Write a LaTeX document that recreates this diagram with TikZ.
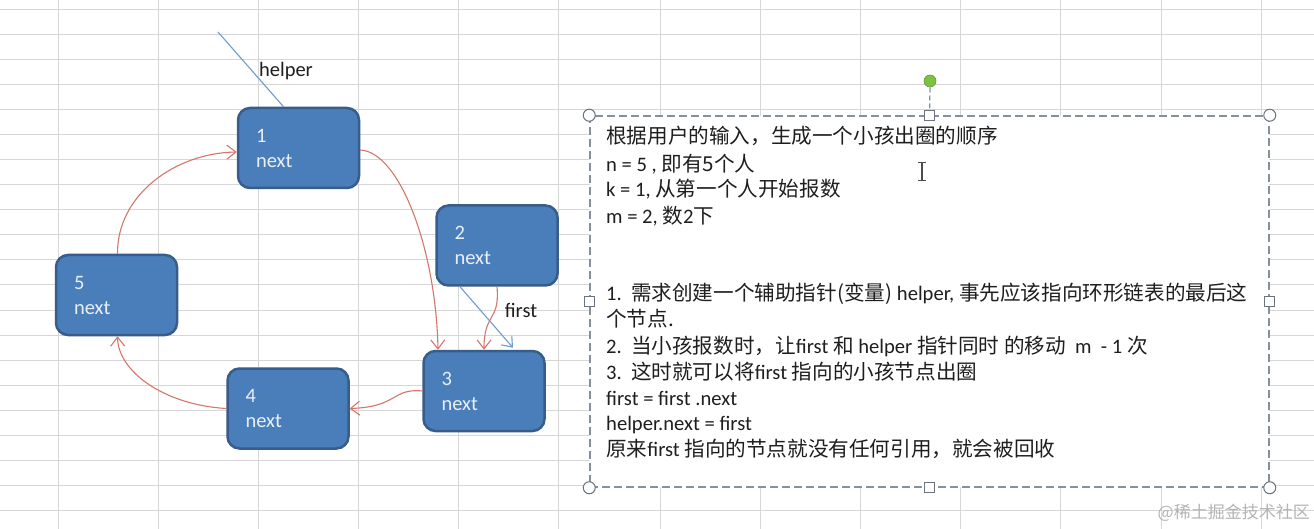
\documentclass[tikz,border=0pt]{standalone}
\usepackage{fontspec}
\setmainfont{Carlito}
\newfontfamily\cjk{Noto Sans CJK SC}
\newcommand{\zh}[1]{{\cjk #1}}
\usetikzlibrary{arrows.meta}
\definecolor{gridc}{HTML}{D6D6D6}
\definecolor{boxfill}{HTML}{4A7EBB}
\definecolor{boxdraw}{HTML}{385D8A}
\definecolor{redc}{HTML}{D4766A}
\definecolor{bluec}{HTML}{6E9BD0}
\definecolor{selc}{HTML}{84909D}
\definecolor{greenc}{HTML}{7CC142}
\definecolor{txtc}{HTML}{1E1E1E}
\definecolor{wmc}{HTML}{B4B4B4}
\begin{document}
\begin{tikzpicture}[x=1pt,y=-1pt,
  listnode/.style={draw=boxdraw, fill=boxfill, line width=2.5pt, rounded corners=12pt,
    minimum width=121pt, minimum height=80pt, text width=85pt, inner xsep=18pt, inner ysep=0pt,
    align=left, text=white!88!boxfill, font=\fontsize{20.5}{25}\selectfont},
  redarrow/.style={draw=redc, line width=1.1pt, -{Straight Barb[length=9pt,width=14pt]}},
  bluearrow/.style={draw=bluec, line width=1.1pt, -{Straight Barb[length=9pt,width=14pt]}},
  blueline/.style={draw=bluec, line width=1.1pt},
  ptrlabel/.style={text=txtc, inner sep=0pt, font=\fontsize{20.5}{24}\selectfont},
  selbox/.style={draw=selc, fill=white, line width=1.5pt, dash pattern=on 8pt off 4pt, inner sep=0pt},
  roundhandle/.style={circle, draw=selc!80!black, fill=white, line width=1pt, minimum size=12pt, inner sep=0pt},
  squarehandle/.style={rectangle, draw=selc!80!black, fill=white, line width=1pt, minimum size=10pt, inner sep=0pt},
  rothandle/.style={circle, draw=greenc!80!black, fill=greenc, line width=0.6pt, minimum size=12pt, inner sep=0pt},
  txtline/.style={anchor=base west, inner sep=0pt, text=txtc, font=\fontsize{20.6}{25}\selectfont},
  gridline/.style={draw=gridc, line width=1pt}
]
\useasboundingbox (0,0) rectangle (1314,529);
\fill[white] (0,0) rectangle (1314,529);
% spreadsheet grid
\foreach \gx in {58,158,258,358,458,558,660,760,860,960,1060,1161,1261}
  \draw[gridline] (\gx,0) -- (\gx,529);
\foreach \k in {0,...,20}
  \draw[gridline] (0,10+25*\k) -- (1314,10+25*\k);

% list nodes
\node[listnode] (n1) at (298.5,148) {1\\next};
\node[listnode] (n2) at (497,245.5) {2\\next};
\node[listnode] (n3) at (484,391) {3\\next};
\node[listnode] (n4) at (288,408.5) {4\\next};
\node[listnode] (n5) at (116.5,295) {5\\next};

% helper pointer
\coordinate (hstart) at (218,32);
\draw[blueline] (hstart) -- ([xshift=-15pt]n1.north);
\node[ptrlabel] (lhelper) at (286,71) {helper};

% next links
\draw[redarrow] ([yshift=-2pt]n1.east) .. controls (400,152) and (436,250) .. ([xshift=-46pt]n3.north);
\draw[redarrow] ([xshift=0pt]n2.south) .. controls (500,322) and (484,312) .. ([xshift=0pt]n3.north);
\draw[redarrow] (n3.west) .. controls (392,388) and (398,407) .. (n4.east);
\draw[redarrow] (n4.west) .. controls (165,405) and (118,372) .. ([xshift=1pt]n5.south);
\draw[redarrow] ([xshift=1pt]n5.north) .. controls (117,195) and (175,153) .. ([yshift=-4pt]n1.west);

% first pointer
\draw[bluearrow] ([xshift=-37pt]n2.south) -- ([xshift=29pt,yshift=2pt]n3.north);
\node[ptrlabel] (lfirst) at (521,310) {first};

% selected text box
\node[selbox, minimum width=679pt, minimum height=371pt] (tb) at (929.5,301.5) {};
\node[rothandle] (rot) at (930,81) {};
\draw[draw=selc, line width=1.2pt, dash pattern=on 5pt off 3pt] (rot.south) -- (tb.north);
\node[roundhandle] (h1) at (tb.north west) {};
\node[roundhandle] (h2) at (tb.north east) {};
\node[roundhandle] (h3) at (tb.south west) {};
\node[roundhandle] (h4) at (tb.south east) {};
\node[squarehandle] (h5) at (tb.north) {};
\node[squarehandle] (h6) at (tb.south) {};
\node[squarehandle] (h7) at (tb.west) {};
\node[squarehandle] (h8) at (tb.east) {};

% text lines
\node[txtline] (t1) at (606,144) {\zh{根据用户的输入，生成一个小孩出圈的顺序}};
\node[txtline] (t2) at (606,172) {n = 5 , \zh{即有5个人}};
\node[txtline] (t3) at (606,197) {k = 1, \zh{从第一个人开始报数}};
\node[txtline] (t4) at (606,224) {m = 2, \zh{数}2\zh{下}};
\node[txtline] (t5) at (606,300) {1.\ \ \zh{需求创建一个辅助指针(变量)} helper, \zh{事先应该指向环形链表的最后这}};
\node[txtline] (t6) at (606,326) {\zh{个节点.}};
\node[txtline] (t7) at (606,353) {2.\ \ \zh{当小孩报数时，让}first \zh{和} helper \zh{指针同时 的移动}\ \ m\ \ - 1 \zh{次}};
\node[txtline] (t8) at (606,379) {3.\ \ \zh{这时就可以将}first \zh{指向的小孩节点出圈}};
\node[txtline] (t9) at (606,405) {first = first .next};
\node[txtline] (t10) at (606,430) {helper.next = first};
\node[txtline] (t11) at (606,456) {\zh{原来}first \zh{指向的节点就没有任何引用，就会被回收}};

% text cursor
\draw[draw=black!70, line width=1.2pt] (922,163) -- (922,181);
\draw[draw=black!70, line width=1pt] (918,163) -- (926,163) (918,181) -- (926,181);

% watermark
\node[anchor=east, inner sep=0pt, text=wmc, font=\fontsize{17}{20}\selectfont] (wm) at (1310,513) {\zh{@稀土掘金技术社区}};
\end{tikzpicture}
\end{document}
